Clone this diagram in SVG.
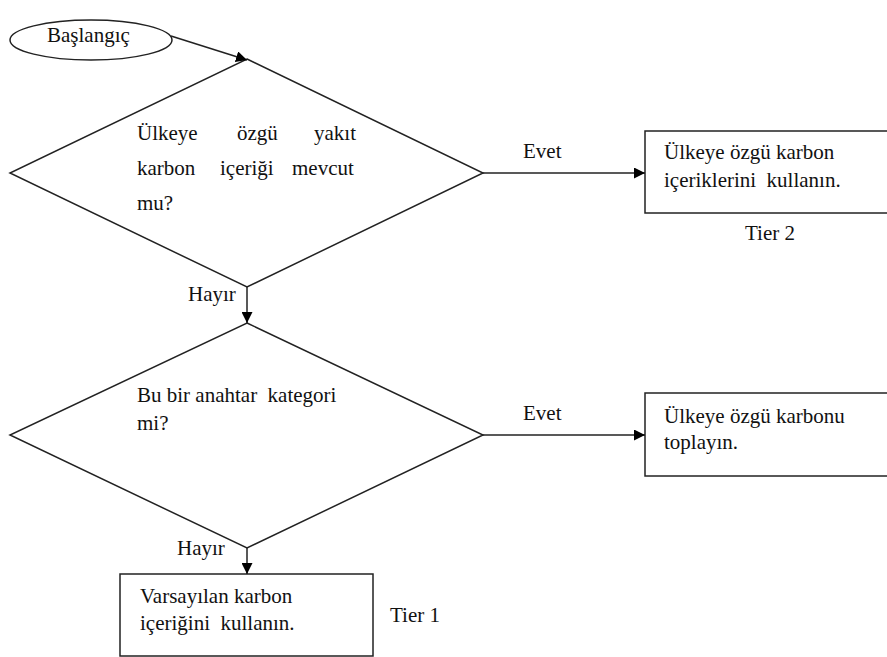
<svg xmlns="http://www.w3.org/2000/svg" width="887" height="657" viewBox="0 0 887 657">
<style>
.s{fill:#fff;stroke:#222;stroke-width:1.5}
.c{fill:none;stroke:#222;stroke-width:1.5}
.t{font-family:'Liberation Serif','Tinos','Times New Roman','DejaVu Serif',serif;font-size:21px;fill:#111}
</style>
<defs>
<marker id="ah" viewBox="0 0 10 10" refX="10" refY="5" markerWidth="11" markerHeight="11" markerUnits="userSpaceOnUse" orient="auto">
<path d="M0,0 L10,5 L0,10 z" fill="#000"/>
</marker>
</defs>
<rect width="887" height="657" fill="#fff"/>
<g id="start">
<ellipse class="s" cx="91" cy="40" rx="81" ry="20"/>
<text class="t" x="47" y="42">Başlangıç</text>
</g>
<g id="d1">
<polygon class="s" points="247,59 483,173 247,287 10,173"/>
<text class="t" x="137" y="140">Ülkeye</text><text class="t" x="237" y="140">özgü</text><text class="t" x="314" y="140">yakıt</text>
<text class="t" x="137" y="175">karbon</text><text class="t" x="220" y="175">içeriği</text><text class="t" x="292" y="175">mevcut</text>
<text class="t" x="137" y="210">mu?</text>
</g>
<g id="b1">
<rect class="s" x="645" y="131" width="260" height="82"/>
<text class="t" x="664" y="159">Ülkeye özgü karbon</text>
<text class="t" x="664" y="187" xml:space="preserve">içeriklerini  kullanın.</text>
</g>
<text id="tier2" class="t" x="745" y="240">Tier 2</text>
<g id="d2">
<polygon class="s" points="247,323 483,435 247,548 10,435"/>
<text class="t" x="137" y="402" xml:space="preserve">Bu bir anahtar  kategori</text>
<text class="t" x="137" y="430">mi?</text>
</g>
<g id="b2">
<rect class="s" x="645" y="393" width="260" height="83"/>
<text class="t" x="664" y="423">Ülkeye özgü karbonu</text>
<text class="t" x="664" y="449">toplayın.</text>
</g>
<g id="b3">
<rect class="s" x="120" y="574" width="253" height="82"/>
<text class="t" x="140" y="603">Varsayılan karbon</text>
<text class="t" x="140" y="630" xml:space="preserve">içeriğini  kullanın.</text>
</g>
<text id="tier1" class="t" x="390" y="622">Tier 1</text>
<g id="connectors">
<line class="c" x1="171" y1="36" x2="247" y2="60" marker-end="url(#ah)"/>
<line class="c" x1="483" y1="173" x2="645" y2="173" marker-end="url(#ah)"/>
<line class="c" x1="247" y1="287" x2="247" y2="323" marker-end="url(#ah)"/>
<line class="c" x1="483" y1="435" x2="645" y2="435" marker-end="url(#ah)"/>
<line class="c" x1="247" y1="548" x2="247" y2="574" marker-end="url(#ah)"/>
<text class="t" x="523" y="158">Evet</text>
<text class="t" x="188" y="301">Hayır</text>
<text class="t" x="523" y="420">Evet</text>
<text class="t" x="177" y="555">Hayır</text>
</g>
</svg>
